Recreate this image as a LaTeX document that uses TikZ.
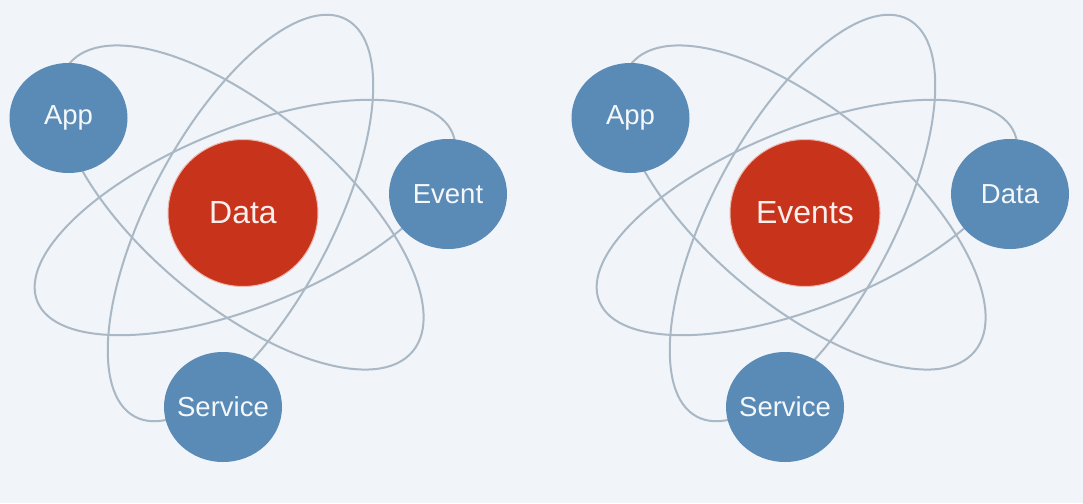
\documentclass[tikz,border=0pt]{standalone}
\usepackage{fontspec}
\setmainfont{Liberation Sans}
\usetikzlibrary{shapes.geometric}
\definecolor{bgc}{HTML}{F1F4F8}
\definecolor{satblue}{HTML}{5A8BB6}
\definecolor{corered}{HTML}{C8331C}
\definecolor{orbitc}{HTML}{A9B8C4}
\tikzset{
  sat/.style={ellipse, fill=satblue, inner sep=-15pt, minimum width=118pt, minimum height=110pt,
    text=white!94!satblue, font=\fontsize{27.5}{27.5}\selectfont},
  core/.style={ellipse, fill=corered, draw=corered!35!white, line width=1pt, inner sep=-10pt,
    minimum width=150pt, minimum height=147pt, text=white!92!corered, font=\fontsize{32}{32}\selectfont},
  orbit/.style={draw=orbitc, line width=2pt},
}
\begin{document}
\begin{tikzpicture}[x=1pt,y=1pt]
\fill[bgc] (0,0) rectangle (1083,-503);
\useasboundingbox (0,0) rectangle (1083,-503);
% ---------- left atom ----------
\begin{scope}
  \begin{scope}[shift={(241,-207.5)}, rotate=-40]
    \draw[orbit] (0,0) ellipse [x radius=224, y radius=97];
  \end{scope}
  \begin{scope}[shift={(240.5,-218)}, rotate=62]
    \draw[orbit] (0,0) ellipse [x radius=225, y radius=91];
  \end{scope}
  \begin{scope}[shift={(245,-217.5)}, rotate=22]
    \draw[orbit] (0,0) ellipse [x radius=224, y radius=89];
  \end{scope}
  \node[core] (coreL) at (243,-213) {Data};
  \node[sat] (appL) at (68.5,-118) {App};
  \node[sat] (eventL) at (448,-194) {Event};
  \node[sat] (serviceL) at (223,-407) {Service};
\end{scope}
% ---------- right atom ----------
\begin{scope}[shift={(562,0)}]
  \begin{scope}[shift={(241,-207.5)}, rotate=-40]
    \draw[orbit] (0,0) ellipse [x radius=224, y radius=97];
  \end{scope}
  \begin{scope}[shift={(240.5,-218)}, rotate=62]
    \draw[orbit] (0,0) ellipse [x radius=225, y radius=91];
  \end{scope}
  \begin{scope}[shift={(245,-217.5)}, rotate=22]
    \draw[orbit] (0,0) ellipse [x radius=224, y radius=89];
  \end{scope}
  \node[core] (coreR) at (243,-213) {Events};
  \node[sat] (appR) at (68.5,-118) {App};
  \node[sat] (dataR) at (448,-194) {Data};
  \node[sat] (serviceR) at (223,-407) {Service};
\end{scope}
\end{tikzpicture}
\end{document}
